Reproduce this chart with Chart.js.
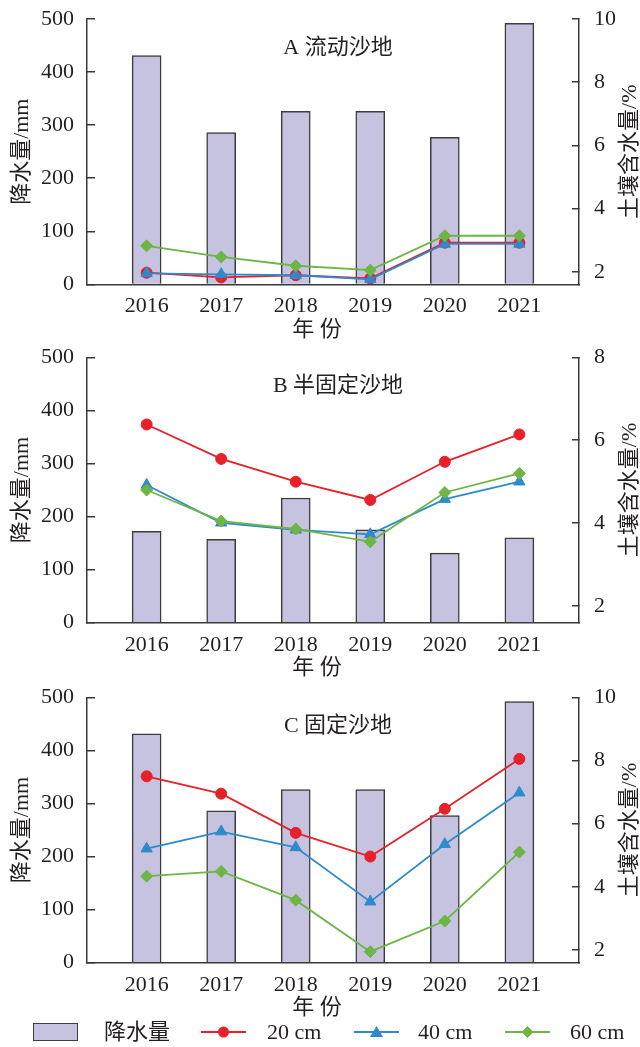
<!DOCTYPE html>
<html>
<head>
<meta charset="utf-8">
<script src="https://cdn.jsdelivr.net/npm/chart.js@4.4.1/dist/chart.umd.min.js"></script>
<style>
  html, body { margin: 0; padding: 0; background: #fff; }
  #page { position: relative; width: 640px; height: 1047px; overflow: hidden; }
  canvas { position: absolute; left: 0; }
  .lg { position: absolute; font: 22px "Liberation Serif", "Noto Sans CJK SC", serif; color: #231f20; line-height: 26px; white-space: nowrap; }
  .lg svg { position: absolute; }
</style>
</head>
<body>
<div id="page">
  <canvas id="chartA" width="640" height="340" style="top:0"></canvas>
  <canvas id="chartB" width="640" height="340" style="top:340px"></canvas>
  <canvas id="chartC" width="640" height="340" style="top:680px"></canvas>
  <div id="legend"></div>
</div>
<script>
const YEARS = ['2016', '2017', '2018', '2019', '2020', '2021'];
const SERIES_NAMES = ['降水量', '20 cm', '40 cm', '60 cm'];

// 降水量 (mm)
const RAIN_A = [431, 286, 326, 326, 277, 492];
const RAIN_B = [172, 157, 235, 175, 131, 160];
const RAIN_C = [431, 286, 326, 326, 277, 492];

// 土壤含水量 (%)
const A_20 = [1.97, 1.82, 1.89, 1.79, 2.92, 2.92];
const A_40 = [1.95, 1.92, 1.89, 1.76, 2.88, 2.88];
const A_60 = [2.82, 2.47, 2.19, 2.05, 3.14, 3.14];

const B_20 = [6.38, 5.55, 5.0, 4.56, 5.48, 6.14];
const B_40 = [4.92, 4.01, 3.84, 3.73, 4.58, 5.0];
const B_60 = [4.8, 4.05, 3.86, 3.55, 4.74, 5.2];

const C_20 = [7.5, 6.95, 5.71, 4.96, 6.47, 8.05];
const C_40 = [5.21, 5.75, 5.25, 3.53, 5.35, 6.98];
const C_60 = [4.34, 4.49, 3.58, 1.95, 2.92, 5.1];

const RAIN_TICKS = [0, 100, 200, 300, 400, 500];
const MOIST_TICKS_10 = [2, 4, 6, 8, 10];
const MOIST_TICKS_8 = [2, 4, 6, 8];

const BAR_FILL = '#c6c3e0';
const BAR_EDGE = '#3c3c3c';
const RED = '#e62129';
const BLUE = '#2e8bcb';
const GREEN = '#6db544';
const AXIS = '#3a3a3a';
const TEXT = '#231f20';
const FAMILY = '"Liberation Serif", "Noto Sans CJK SC", serif';
const FONT = { family: FAMILY, size: 22 };

const toXY = (arr) => arr.map((v, i) => ({ x: i, y: v }));

// tick padding would otherwise push the plot area down; the page fixes it by hand
const noScalePad = (s) => { s.paddingTop = 0; s.paddingBottom = 0; s.paddingLeft = 0; s.paddingRight = 0; };

// panel label, x title and the right-hand title (reads bottom to top, like the left one)
const panelText = {
  id: 'panelText',
  afterDraw(chart, args, opts) {
    const { ctx, chartArea: a } = chart;
    const mid = (a.left + a.right) / 2;
    ctx.save();
    ctx.fillStyle = TEXT;
    ctx.font = `22px ${FAMILY}`;
    ctx.textAlign = 'center';
    ctx.textBaseline = 'middle';
    ctx.fillText(opts.title, mid + 5, a.top + 29);
    ctx.fillText('年 份', mid - 16, a.bottom + 46);
    ctx.translate(chart.width - 9.5, (a.top + a.bottom) / 2);
    ctx.rotate(-Math.PI / 2);
    ctx.fillText('土壤含水量/%', 0, 0);
    ctx.restore();
  }
};

function lineSet(label, arr, color, style, radius, order) {
  return {
    type: 'line', label, data: toXY(arr), yAxisID: 'y2',
    borderColor: color, backgroundColor: color, borderWidth: 1.8,
    pointStyle: style, pointRadius: radius, pointBorderWidth: 1,
    pointBackgroundColor: color, pointBorderColor: color,
    tension: 0, clip: false, order
  };
}

function renderPanel(canvasId, title, rain, s20, s40, s60, moistMax, moistTicks, topPad) {
  const ctx = document.getElementById(canvasId).getContext('2d');
  return new Chart(ctx, {
    type: 'bar',
    data: {
      datasets: [
        lineSet(SERIES_NAMES[3], s60, GREEN, 'rectRot', 6, 1),
        lineSet(SERIES_NAMES[2], s40, BLUE, 'triangle', 6.5, 2),
        lineSet(SERIES_NAMES[1], s20, RED, 'circle', 5.5, 3),
        {
          label: SERIES_NAMES[0], data: toXY(rain), yAxisID: 'y',
          backgroundColor: BAR_FILL, borderColor: BAR_EDGE, borderWidth: 1.5,
          borderSkipped: 'bottom', barThickness: 29, order: 4
        }
      ]
    },
    options: {
      responsive: false,
      animation: false,
      layout: { padding: { top: topPad, left: 0, right: 0, bottom: 0 } },
      plugins: { legend: { display: false }, tooltip: { enabled: false }, panelText: { title } },
      scales: {
        x: {
          type: 'linear', min: -0.8, max: 5.8, offset: false,
          afterBuildTicks: (s) => { s.ticks = YEARS.map((_, i) => ({ value: i })); },
          afterFit: (s) => { noScalePad(s); s.height = 340 - topPad - 265.4; },
          grid: { display: false, drawTicks: false },
          border: { color: AXIS, width: 1.5 },
          ticks: { padding: 9, font: FONT, color: TEXT, maxRotation: 0, callback: (v) => YEARS[v] }
        },
        y: {
          position: 'left', min: 0, max: 500,
          afterBuildTicks: (s) => { s.ticks = RAIN_TICKS.map((v) => ({ value: v })); },
          afterFit: (s) => { noScalePad(s); s.width = 87; },
          grid: { drawOnChartArea: false, tickLength: -8, color: AXIS, lineWidth: 1.5 },
          border: { color: AXIS, width: 1.5 },
          ticks: { padding: 21, font: FONT, color: TEXT },
          title: { display: true, text: '降水量/mm', font: FONT, color: TEXT, padding: { top: 9, bottom: 0 } }
        },
        y2: {
          position: 'right', min: 1.6, max: moistMax,
          afterBuildTicks: (s) => { s.ticks = moistTicks.map((v) => ({ value: v })); },
          afterFit: (s) => { noScalePad(s); s.width = 61; },
          grid: { drawOnChartArea: false, tickLength: -7, color: AXIS, lineWidth: 1.5 },
          border: { color: AXIS, width: 1.5 },
          ticks: { padding: 22, font: FONT, color: TEXT }
        }
      }
    },
    plugins: [panelText]
  });
}

renderPanel('chartA', 'A 流动沙地', RAIN_A, A_20, A_40, A_60, 10, MOIST_TICKS_10, 19);
renderPanel('chartB', 'B 半固定沙地', RAIN_B, B_20, B_40, B_60, 8, MOIST_TICKS_8, 17.3);
renderPanel('chartC', 'C 固定沙地', RAIN_C, C_20, C_40, C_60, 10, MOIST_TICKS_10, 17.3);

// legend row under the last panel
function markerSvg(color, shape) {
  let mark = '';
  if (shape === 'circle') mark = `<circle cx="22.5" cy="10" r="5.5" fill="${color}"/>`;
  if (shape === 'triangle') mark = `<polygon points="22.5,4 29,15 16,15" fill="${color}"/>`;
  if (shape === 'diamond') mark = `<polygon points="22.5,4 28.5,10 22.5,16 16.5,10" fill="${color}"/>`;
  return `<svg width="45" height="20" style="left:0;top:3px"><line x1="0" y1="10" x2="45" y2="10" stroke="${color}" stroke-width="1.8"/>${mark}</svg>`;
}

const legend = document.getElementById('legend');
legend.innerHTML = `
  <div class="lg" style="left:33px;top:1023px;width:45px;height:18px;box-sizing:border-box;border:1.5px solid ${BAR_EDGE};background:${BAR_FILL}"></div>
  <div class="lg" style="left:104px;top:1019px">${SERIES_NAMES[0]}</div>
  <div class="lg" style="left:201px;top:1019px;width:45px;height:26px">${markerSvg(RED, 'circle')}</div>
  <div class="lg" style="left:267px;top:1019px">${SERIES_NAMES[1]}</div>
  <div class="lg" style="left:354px;top:1019px;width:45px;height:26px">${markerSvg(BLUE, 'triangle')}</div>
  <div class="lg" style="left:418px;top:1019px">${SERIES_NAMES[2]}</div>
  <div class="lg" style="left:505px;top:1019px;width:45px;height:26px">${markerSvg(GREEN, 'diamond')}</div>
  <div class="lg" style="left:570px;top:1019px">${SERIES_NAMES[3]}</div>
`;
</script>
</body>
</html>
